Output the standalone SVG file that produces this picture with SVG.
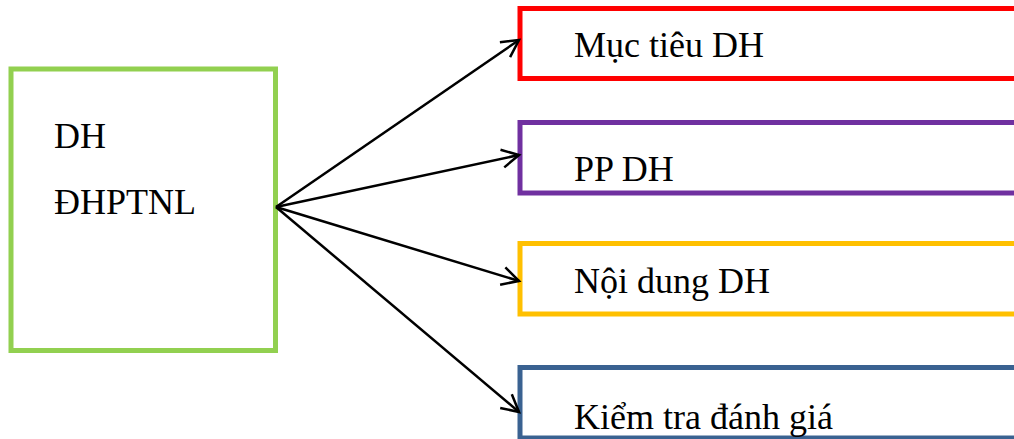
<svg xmlns="http://www.w3.org/2000/svg" width="1014" height="439" viewBox="0 0 1014 439">
  <style>
    .lbl { font-family: "Liberation Serif", "DejaVu Serif", "Times New Roman", serif; font-size: 36px; fill: #000; }
    .box { fill: #fff; stroke-width: 5; }
    .conn { stroke: #000; stroke-width: 2.5; fill: none; marker-end: url(#arrow); }
  </style>
  <defs>
    <marker id="arrow" markerUnits="userSpaceOnUse" markerWidth="24" markerHeight="24" viewBox="-20 -12 24 24" refX="0" refY="0" orient="auto">
      <path d="M-17,-9 L0,0 L-17,9" fill="none" stroke="#000" stroke-width="2.5"/>
    </marker>
  </defs>
  <rect width="1014" height="439" fill="#fff"/>
  <g id="node-dh">
    <rect class="box" x="11" y="69" width="264.5" height="281.5" stroke="#92D050"/>
    <text class="lbl" x="54" y="148" font-family="Liberation Serif, serif">DH</text>
    <text class="lbl" x="54" y="214">ĐHPTNL</text>
  </g>
  <g id="node-muctieu">
    <rect class="box" x="520" y="8.5" width="510" height="70" stroke="#FF0000"/>
    <text class="lbl" x="574" y="57">Mục tiêu DH</text>
  </g>
  <g id="node-pp">
    <rect class="box" x="520" y="122.5" width="510" height="70.5" stroke="#7030A0"/>
    <text class="lbl" x="574" y="181">PP DH</text>
  </g>
  <g id="node-noidung">
    <rect class="box" x="520" y="243.5" width="510" height="70.5" stroke="#FFC000"/>
    <text class="lbl" x="574" y="293">Nội dung DH</text>
  </g>
  <g id="node-kiemtra">
    <rect class="box" x="520" y="367.5" width="510" height="70.5" stroke="#3A6291"/>
    <text class="lbl" x="574" y="429">Kiểm tra đánh giá</text>
  </g>
  <g id="connectors">
    <line class="conn" x1="276" y1="207" x2="519" y2="40"/>
    <line class="conn" x1="276" y1="207" x2="519" y2="155"/>
    <line class="conn" x1="276" y1="207" x2="519" y2="281"/>
    <line class="conn" x1="276" y1="207" x2="519" y2="412"/>
  </g>
</svg>
